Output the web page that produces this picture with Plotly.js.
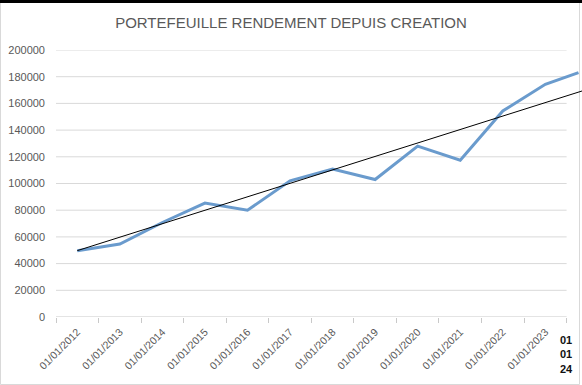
<!DOCTYPE html>
<html>
<head>
<meta charset="utf-8">
<script src="https://cdn.plot.ly/plotly-3.0.1.min.js"></script>
<style>html,body{margin:0;padding:0;background:#fff;}#chart{width:582px;height:385px;}</style>
</head>
<body>
<div id="chart"></div>
<script>
// ---- data ----
const tickYears = [2012, 2013, 2014, 2015, 2016, 2017, 2018, 2019, 2020, 2021, 2022, 2023];
const tickLabels = tickYears.map(y => "01/01/" + y);
const lastLabel = "01<br>01<br>24";
// position of each point along the category axis (index of period)
const xPos = [0, 1, 2, 3, 4, 5, 6, 7, 8, 9, 10, 11, 11.78];
const values = [49700, 54700, 70800, 85300, 80000, 102000, 110800, 103000, 128000, 117500, 154300, 174300, 183000];
const yTicks = [0, 20000, 40000, 60000, 80000, 100000, 120000, 140000, 160000, 180000, 200000];

// ---- geometry ----
const W = 582, H = 385;
const mL = 56, mR = 0, mT = 50, mB = 68;
const catW = 42.55;
const xMin = -0.5;
const xMax = xMin + (W - mL - mR) / catW;
const catEnd = tickYears.length - 0.5;

// trendline: least squares through the first value (fixed intercept)
const y0 = values[0];
let sxy = 0, sxx = 0;
for (let i = 0; i < xPos.length; i++) { sxy += xPos[i] * (values[i] - y0); sxx += xPos[i] * xPos[i]; }
const slope = sxy / sxx;
const trendX = [0, xMax];
const trendY = trendX.map(x => y0 + slope * x);

const grey = '#595959';
const font = 'Liberation Sans, Arial, sans-serif';

const shapes = yTicks.map(v => ({
  type: 'line', xref: 'x', yref: 'y', x0: xMin, x1: catEnd, y0: v, y1: v,
  line: {color: v === 0 ? '#c9c9c9' : '#d9d9d9', width: 1}, layer: 'below'
}));
const ph = H - mT - mB, pw = W - mL - mR;
const px2x = p => (p - mL) / pw, py2y = p => (H - mB - p) / ph;
// chart border and top band of the screenshot
shapes.push({type: 'rect', xref: 'paper', yref: 'paper', x0: px2x(0.5), x1: px2x(579.5), y0: py2y(384.5), y1: py2y(2.5),
  line: {color: '#d9d9d9', width: 1}, layer: 'below'});
shapes.push({type: 'rect', xref: 'paper', yref: 'paper', x0: px2x(0), x1: px2x(582), y0: py2y(3), y1: py2y(0),
  fillcolor: '#000', line: {width: 0}});

const traces = [
  {x: xPos, y: values, type: 'scatter', mode: 'lines', line: {color: '#6a9bcd', width: 3}, hoverinfo: 'skip'},
  {x: trendX, y: trendY, type: 'scatter', mode: 'lines', line: {color: '#000', width: 1}, hoverinfo: 'skip'}
];

const layout = {
  width: W, height: H,
  margin: {l: mL, r: mR, t: mT, b: mB, pad: 0},
  paper_bgcolor: '#fff', plot_bgcolor: 'rgba(0,0,0,0)',
  showlegend: false,
  font: {family: font, color: grey, size: 11},
  title: {text: 'PORTEFEUILLE RENDEMENT DEPUIS CREATION', font: {family: font, size: 15, color: grey},
    x: 0.5, xanchor: 'center', xref: 'container', y: 1 - 22.5 / H, yanchor: 'middle', yref: 'container'},
  xaxis: {
    type: 'linear', range: [xMin, xMax], fixedrange: true,
    tickmode: 'array', tickvals: tickYears.map((_, i) => i), ticktext: tickLabels,
    tickangle: -45, ticks: '', ticklabelstandoff: 6,
    tickfont: {family: font, size: 10.5, color: grey},
    showgrid: false, zeroline: false, showline: false,
    minor: {tick0: -0.5, dtick: 1, ticks: 'outside', ticklen: 5, tickwidth: 1, tickcolor: '#c9c9c9', showgrid: false}
  },
  yaxis: {
    range: [0, 200000], fixedrange: true,
    tickmode: 'array', tickvals: yTicks, ticktext: yTicks.map(String),
    ticks: '', ticklabelstandoff: 10,
    tickfont: {family: font, size: 11, color: grey},
    showgrid: false, zeroline: false, showline: false
  },
  shapes: shapes,
  annotations: [{
    text: '<b>' + lastLabel + '</b>', xref: 'x', yref: 'paper', x: catEnd, y: py2y(354),
    xanchor: 'center', yanchor: 'middle', showarrow: false, align: 'center',
    font: {family: font, size: 11, color: '#111'}
  }]
};

Plotly.newPlot('chart', traces, layout, {staticPlot: true, displayModeBar: false});
</script>
</body>
</html>
